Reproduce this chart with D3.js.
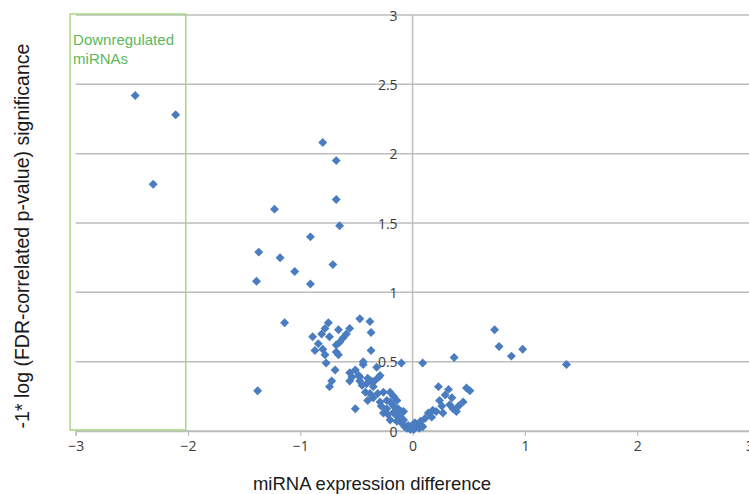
<!DOCTYPE html>
<html>
<head>
<meta charset="utf-8">
<script src="https://cdn.jsdelivr.net/npm/d3@7"></script>
<style>
  html, body { margin: 0; padding: 0; background: #fff; }
  svg { display: block; }
</style>
</head>
<body>
<svg id="chart" width="749" height="494"></svg>
<script>
// ---- data ----
const xTicks = [-3, -2, -1, 0, 1, 2, 3];
const yTicks = [0, 0.5, 1, 1.5, 2, 2.5, 3];
const xTitle = "miRNA expression difference";
const yTitle = "-1* log (FDR-correlated p-value) significance";
const boxLabel = ["Downregulated", "miRNAs"];
const boxRange = [-3.05, -2.02];

const diffValues = [
  -2.47, -2.11, -2.31, -0.80, -0.68, -1.23, -0.68, -0.65, -0.91, -1.37,
  -1.18, -1.05, -0.71, -1.39, -0.91, -1.14, -1.38, 0.73, 0.77, 0.88,
  0.98, 1.37, 0.37, 0.09, -0.10,
  -0.47, -0.38, -0.75, -0.78, -0.66, -0.56, -0.59, -0.37, -0.89, -0.81,
  -0.74, -0.62, -0.65, -0.68, -0.84, -0.87, -0.80, -0.78, -0.68, -0.66,
  -0.37, -0.77, -0.44, -0.69, -0.51, -0.54, -0.48, -0.56, -0.47, -0.72,
  -0.40, -0.34, -0.29, -0.74, -0.44, -0.56, -0.47, -0.45, -0.41, -0.35,
  -0.42, -0.38, -0.31, -0.26, -0.20, -0.40, -0.35, -0.29, -0.23, -0.20,
  -0.51, -0.28, -0.23, -0.17, -0.26, -0.22, -0.17, -0.13, -0.20, -0.14,
  -0.10, -0.07, -0.02, 0.02, 0.05, -0.32, -0.30, -0.37, -0.17, -0.14,
  -0.16, -0.11, -0.08, -0.13,
  0.23, 0.32, 0.48, 0.51, 0.29, 0.35, 0.24, 0.45, 0.26, 0.33,
  0.36, 0.18, 0.21, 0.14, 0.27, 0.17, 0.11, 0.07, 0.02, 0.08,
  -0.02, 0.01, -0.08, -0.11, -0.05, -0.10, 0.39, 0.41, -0.04, 0.09, 0.06
];
const sigValues = [
  2.42, 2.28, 1.78, 2.08, 1.95, 1.60, 1.67, 1.48, 1.40, 1.29,
  1.25, 1.15, 1.20, 1.08, 1.06, 0.78, 0.29, 0.73, 0.61, 0.54,
  0.59, 0.48, 0.53, 0.49, 0.49,
  0.81, 0.79, 0.78, 0.74, 0.73, 0.74, 0.70, 0.71, 0.68, 0.70,
  0.68, 0.67, 0.64, 0.62, 0.63, 0.58, 0.59, 0.55, 0.57, 0.55,
  0.58, 0.49, 0.50, 0.44, 0.44, 0.39, 0.40, 0.36, 0.36, 0.36,
  0.38, 0.36, 0.40, 0.32, 0.48, 0.42, 0.39, 0.33, 0.34, 0.32,
  0.28, 0.27, 0.27, 0.28, 0.28, 0.22, 0.24, 0.21, 0.22, 0.21,
  0.16, 0.18, 0.16, 0.18, 0.13, 0.12, 0.13, 0.10, 0.08, 0.07,
  0.06, 0.03, 0.01, 0.02, 0.04, 0.46, 0.39, 0.36, 0.25, 0.22,
  0.14, 0.12, 0.14, 0.16,
  0.32, 0.30, 0.31, 0.29, 0.26, 0.24, 0.22, 0.21, 0.18, 0.19,
  0.16, 0.15, 0.14, 0.13, 0.13, 0.10, 0.09, 0.07, 0.06, 0.04,
  0.03, 0.01, 0.08, 0.10, 0.02, 0.14, 0.14, 0.18, 0.04, 0.03, 0.02
];

// ---- layout ----
const svg = d3.select("#chart");
const x = d3.scaleLinear().domain([-3, 3]).range([75.7, 749.5]);
const y = d3.scaleLinear().domain([0, 3]).range([431, 15]);

const gridColor = "#bdbdbd";
const tickFont = "'Open Sans', 'DejaVu Sans', sans-serif";
const titleFont = "'Liberation Sans', Arial, sans-serif";

// horizontal gridlines
svg.append("g").selectAll("line").data(yTicks).join("line")
  .attr("x1", x(-3)).attr("x2", x(3))
  .attr("y1", d => y(d)).attr("y2", d => y(d))
  .attr("stroke", gridColor).attr("stroke-width", 1.5);

// vertical axis line at x = 0
svg.append("line")
  .attr("x1", x(0)).attr("x2", x(0))
  .attr("y1", y(3)).attr("y2", y(0))
  .attr("stroke", gridColor).attr("stroke-width", 1.5);

// x axis with ticks below
const xAxis = d3.axisBottom(x).tickValues(xTicks).tickSize(5).tickPadding(5)
  .tickFormat(d3.format("d"));
const gx = svg.append("g").attr("transform", `translate(0,${y(0)})`).call(xAxis);
gx.select(".domain").attr("stroke", gridColor).attr("stroke-width", 1.5);
gx.selectAll(".tick line").attr("stroke", gridColor).attr("stroke-width", 1.2);
gx.selectAll(".tick text")
  .attr("fill", "#3a3a3a").attr("font-size", 14)
  .attr("font-family", tickFont);

// y axis labels placed left of x = 0 axis
const yAxis = d3.axisLeft(y).tickValues(yTicks).tickSize(0).tickPadding(15)
  .tickFormat(d => String(d));
const gy = svg.append("g").attr("transform", `translate(${x(0)},0)`).call(yAxis);
gy.select(".domain").remove();
gy.selectAll(".tick text")
  .attr("fill", "#3a3a3a").attr("font-size", 14)
  .attr("font-family", tickFont)
  .attr("dy", "0.36em");

// green box for downregulated miRNAs
svg.append("rect")
  .attr("x", x(boxRange[0])).attr("y", y(3) - 1)
  .attr("width", x(boxRange[1]) - x(boxRange[0]))
  .attr("height", y(0) - y(3))
  .attr("fill", "none").attr("stroke", "#a6d785").attr("stroke-width", 1.5);

svg.append("text")
  .attr("x", x(boxRange[0]) + 3).attr("y", 45)
  .attr("fill", "#5cb85c").attr("font-size", 15)
  .attr("font-family", titleFont)
  .selectAll("tspan").data(boxLabel).join("tspan")
  .attr("x", x(boxRange[0]) + 3)
  .attr("dy", (d, i) => i === 0 ? 0 : 19)
  .text(d => d);

// points
const points = diffValues.map((d, i) => ({ x: d, y: sigValues[i] }));
const diamond = d3.symbol().type(d3.symbolSquare).size(40);
svg.append("g").selectAll("path").data(points).join("path")
  .attr("d", diamond)
  .attr("transform", d => `translate(${x(d.x)},${y(d.y)}) rotate(45)`)
  .attr("fill", "#4a7cc0");

// axis titles
svg.append("text")
  .attr("x", 372).attr("y", 490)
  .attr("text-anchor", "middle")
  .attr("fill", "#1a1a1a").attr("font-size", 18.5)
  .attr("font-family", titleFont)
  .text(xTitle);

svg.append("text")
  .attr("transform", "translate(29,236) rotate(-90)")
  .attr("text-anchor", "middle")
  .attr("fill", "#1a1a1a").attr("font-size", 19.5)
  .attr("font-family", titleFont)
  .text(yTitle);
</script>
</body>
</html>
